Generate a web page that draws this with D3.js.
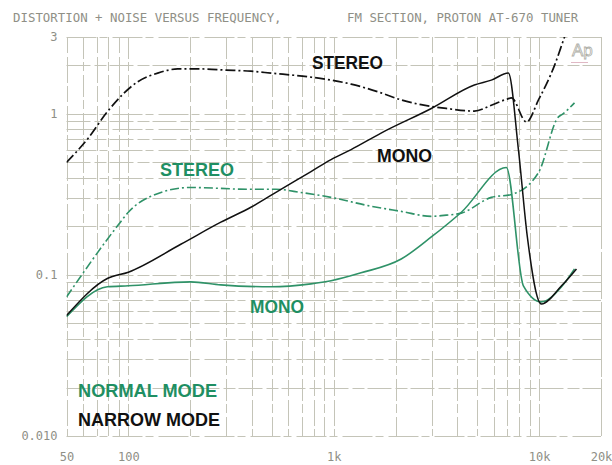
<!DOCTYPE html>
<html>
<head>
<meta charset="utf-8">
<script src="https://cdn.jsdelivr.net/npm/d3@7/dist/d3.min.js"></script>
<style>
  html, body { margin: 0; padding: 0; background: #fff; }
  svg { display: block; }
  .mono { font-family: "DejaVu Sans Mono", "Liberation Mono", monospace; fill: #8f8f86; }
  .lbl { font-family: "Liberation Sans", Arial, sans-serif; font-weight: 700; }
</style>
</head>
<body>
<svg id="chart" width="612" height="465"></svg>
<script>
// Distortion + noise (%) versus frequency (Hz), FM section, Proton AT-670 tuner

// Narrow mode, stereo
const narrowStereoFreq = [50, 64, 79, 111, 139, 174, 225, 298, 395, 495, 775, 970, 1215, 1700, 2130, 2665, 3530, 4835, 5850, 6920, 7330, 8670, 9925, 11880, 13290, 14000];
const narrowStereoPct  = [0.50, 0.71, 1.03, 1.58, 1.79, 1.90, 1.90, 1.87, 1.84, 1.79, 1.69, 1.62, 1.53, 1.35, 1.22, 1.14, 1.08, 1.04, 1.13, 1.23, 1.255, 0.89, 1.22, 2.0, 3.0, 3.6];

// Narrow mode, mono
const narrowMonoFreq = [50, 79, 100, 180, 282, 395, 553, 775, 970, 1215, 1700, 2985, 4835, 5850, 7080, 7925, 8750, 10250, 12850, 15190];
const narrowMonoPct  = [0.056, 0.095, 0.104, 0.155, 0.2125, 0.263, 0.34, 0.438, 0.52, 0.60, 0.76, 1.08, 1.51, 1.62, 1.79, 0.60, 0.174, 0.066, 0.0856, 0.109];

// Normal mode, stereo
const normalStereoFreq = [50, 90, 100, 128, 201, 395, 523, 692, 970, 1520, 2130, 2985, 3530, 4180, 5850, 7330, 9925, 12420, 12850, 14860];
const normalStereoPct  = [0.073, 0.207, 0.245, 0.307, 0.349, 0.34, 0.34, 0.325, 0.303, 0.267, 0.248, 0.231, 0.235, 0.242, 0.303, 0.316, 0.432, 0.958, 0.986, 1.17];

// Normal mode, mono
const normalMonoFreq = [50, 79, 100, 201, 282, 495, 775, 970, 1358, 2130, 2985, 4180, 6920, 8380, 10250, 12850, 14860];
const normalMonoPct  = [0.055, 0.0844, 0.0856, 0.0906, 0.0868, 0.0844, 0.088, 0.092, 0.103, 0.1255, 0.172, 0.245, 0.464, 0.0856, 0.068, 0.0844, 0.109];

// Axis ticks
const xTickValues = [50, 100, 1000, 10000, 20000];
const xTickLabels = ["50", "100", "1k", "10k", "20k"];
const yTickValues = [0.01, 0.1, 1, 3];
const yTickLabels = ["0.010", "0.1", "1", "3"];

const svg = d3.select("#chart");
const plotL = 66.5, plotR = 601, plotT = 37, plotB = 436;

const x = d3.scaleLog().domain([50, 20000]).range([plotL, plotR]);
const y = d3.scaleLog().domain([0.01, 3]).range([plotB, plotT]);

const GREEN = "#1f8f63";
const GREEN_LINE = "#2f9268";
const BLACK = "#111111";

// Log grid: every 1..9 step of each decade
const xGrid = [];
for (let d = 10; d <= 10000; d *= 10)
  for (let m = 1; m <= 9; m++) { const v = d * m; if (v >= 50 && v <= 20000) xGrid.push(v); }
xGrid.push(20000);
const yGrid = [];
for (let d = 0.01; d <= 1.001; d *= 10)
  for (let m = 1; m <= 9; m++) { const v = +(d * m).toPrecision(3); if (v >= 0.01 && v <= 3) yGrid.push(v); }

const grid = svg.append("g").attr("stroke", "#c4c4b8").attr("stroke-width", 1).attr("fill", "none");
grid.selectAll("line.vx").data(xGrid).join("line")
  .attr("x1", d => Math.round(x(d)) + 0.5).attr("x2", d => Math.round(x(d)) + 0.5)
  .attr("y1", plotT).attr("y2", plotB)
  .attr("stroke-dasharray", (d, i) => i % 2 ? "22,3,9,4" : "16,4,26,3");
grid.selectAll("line.hy").data(yGrid).join("line")
  .attr("y1", d => Math.round(y(d)) + 0.5).attr("y2", d => Math.round(y(d)) + 0.5)
  .attr("x1", plotL).attr("x2", plotR)
  .attr("stroke-dasharray", (d, i) => i % 2 ? "24,4,12,3" : "30,3,8,5");

// Axes (labels only)
const xAxis = d3.axisBottom(x).tickValues(xTickValues)
  .tickFormat((d, i) => xTickLabels[i]).tickSize(0).tickPadding(16);
const gx = svg.append("g").attr("transform", `translate(0,${plotB})`).call(xAxis);
gx.select(".domain").remove();
gx.selectAll("text").attr("class", "mono").style("font-size", "12px").attr("fill", "#8f8f86");

const yAxis = d3.axisLeft(y).tickValues(yTickValues)
  .tickFormat((d, i) => yTickLabels[i]).tickSize(0).tickPadding(9);
const gy = svg.append("g").attr("transform", `translate(${plotL},0)`).call(yAxis);
gy.select(".domain").remove();
gy.selectAll("text").attr("class", "mono").style("font-size", "12px").attr("fill", "#8f8f86");

// Curves
svg.append("defs").append("clipPath").attr("id", "plot")
  .append("rect").attr("x", plotL).attr("y", plotT).attr("width", plotR - plotL).attr("height", plotB - plotT);

const line = d3.line().x(d => x(d[0])).y(d => y(d[1])).curve(d3.curveMonotoneX);
const series = [
  { f: normalStereoFreq, v: normalStereoPct, color: GREEN_LINE, dash: "9,3,2,3", w: 1.6 },
  { f: normalMonoFreq,   v: normalMonoPct,   color: GREEN_LINE, dash: null, w: 1.6 },
  { f: narrowStereoFreq, v: narrowStereoPct, color: BLACK, dash: "10,3,2,3", w: 1.7 },
  { f: narrowMonoFreq,   v: narrowMonoPct,   color: BLACK, dash: null, w: 1.5 }
];
svg.append("g").attr("clip-path", "url(#plot)")
  .selectAll("path").data(series).join("path")
  .attr("d", s => line(s.f.map((f, i) => [f, s.v[i]])))
  .attr("fill", "none")
  .attr("stroke", s => s.color)
  .attr("stroke-width", s => s.w)
  .attr("stroke-linejoin", "round")
  .attr("stroke-dasharray", s => s.dash);

// Titles
svg.append("text").attr("class", "mono").attr("x", 13).attr("y", 22)
  .style("font-size", "12.4px").text("DISTORTION + NOISE VERSUS FREQUENCY,");
svg.append("text").attr("class", "mono").attr("x", 347).attr("y", 22)
  .style("font-size", "12.4px").text("FM SECTION, PROTON AT-670 TUNER");

// Curve labels and mode legend
const labels = [
  { t: "STEREO", x: 312, y: 69, w: 71, c: BLACK },
  { t: "MONO", x: 377, y: 162, w: 55, c: BLACK },
  { t: "STEREO", x: 160, y: 176, w: 74, c: GREEN },
  { t: "MONO", x: 250, y: 313, w: 54, c: GREEN },
  { t: "NORMAL MODE", x: 78, y: 397, w: 139, c: GREEN },
  { t: "NARROW MODE", x: 78, y: 426, w: 142, c: BLACK }
];
svg.append("g").selectAll("text").data(labels).join("text")
  .attr("class", "lbl")
  .attr("x", d => d.x).attr("y", d => d.y)
  .attr("textLength", d => d.w).attr("lengthAdjust", "spacingAndGlyphs")
  .style("font-size", "19px").attr("fill", d => d.c)
  .text(d => d.t);

// Audio Precision mark
svg.append("text").attr("x", 572).attr("y", 56)
  .style("font-family", "Liberation Sans, Arial, sans-serif").style("font-size", "17px")
  .attr("fill", "none").attr("stroke", "#b0b0a8").attr("stroke-width", 0.8)
  .text("Ap");
svg.append("line").attr("x1", 571).attr("x2", 588).attr("y1", 62.5).attr("y2", 62.5)
  .attr("stroke", "#e0b8c4").attr("stroke-width", 1);
</script>
</body>
</html>
